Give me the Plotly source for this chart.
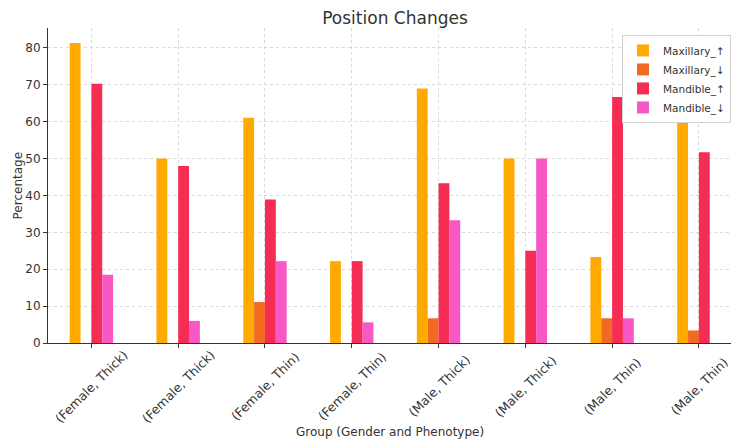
import plotly.graph_objects as go

# Position change percentages by group
groups = ["(Female, Thick)", "(Female, Thick)", "(Female, Thin)", "(Female, Thin)",
          "(Male, Thick)", "(Male, Thick)", "(Male, Thin)", "(Male, Thin)"]
maxillary_up = [81.3, 50.0, 61.1, 22.2, 69.0, 50.0, 23.3, 60.7]
maxillary_down = [0.0, 0.0, 11.1, 0.0, 6.7, 0.0, 6.7, 3.4]
mandible_up = [70.3, 48.0, 38.9, 22.2, 43.3, 25.0, 66.7, 51.7]
mandible_down = [18.5, 6.0, 22.2, 5.6, 33.3, 50.0, 6.7, 0.0]

series = [("Maxillary_↑", maxillary_up, "#FFAA00"),
          ("Maxillary_↓", maxillary_down, "#F26A22"),
          ("Mandible_↑", mandible_up, "#F52D55"),
          ("Mandible_↓", mandible_down, "#F758C4")]

pos = list(range(len(groups)))
txt = "#333333"

fig = go.Figure()
for name, vals, col in series:
    fig.add_trace(go.Bar(x=pos, y=vals, name=name, marker_color=col,
                         marker_line_width=0))

# matplotlib-style centred, rotated tick labels
for p, g in zip(pos, groups):
    fig.add_annotation(x=p, xref="x", y=-0.137, yref="paper", text=g,
                       textangle=-45, showarrow=False, xanchor="center",
                       yanchor="middle", font=dict(size=12.5, color=txt))
fig.add_annotation(x=0.5, xref="paper", y=-0.283, yref="paper",
                   text="Group (Gender and Phenotype)", showarrow=False,
                   xanchor="center", yanchor="middle", font=dict(size=12, color=txt))
fig.add_annotation(x=-0.044, xref="paper", y=0.5, yref="paper",
                   text="Percentage", textangle=-90, showarrow=False,
                   xanchor="center", yanchor="middle", font=dict(size=12, color=txt))

fig.update_layout(
    width=731, height=443,
    margin=dict(l=48, r=0, t=28, b=100, autoexpand=False),
    plot_bgcolor="white", paper_bgcolor="white",
    font=dict(family="DejaVu Sans", color=txt, size=11),
    barmode="group", bargap=0.5, bargroupgap=0,
    title=dict(text="Position Changes", x=395 / 731, xanchor="center",
               y=1 - 18 / 443, yanchor="middle", yref="container",
               font=dict(size=17, color=txt)),
    legend=dict(x=1.0, y=0.978, xanchor="right", yanchor="top",
                bgcolor="white", bordercolor="#d0d0d0", borderwidth=1,
                font=dict(size=10.5, color=txt), tracegroupgap=0),
    showlegend=True,
)
fig.update_xaxes(
    range=[-0.5, 7.37], tickmode="array", tickvals=pos, showticklabels=False,
    automargin=False,
    showline=True, linecolor=txt, linewidth=1,
    ticks="outside", ticklen=4, tickcolor=txt,
    showgrid=True, gridcolor="#d9d9d9", griddash="dot", gridwidth=1,
    zeroline=False,
)
fig.update_yaxes(
    range=[0, 85.4], tickvals=[0, 10, 20, 30, 40, 50, 60, 70, 80],
    tickfont=dict(size=12), automargin=False,
    showline=True, linecolor=txt, linewidth=1,
    ticks="outside", ticklen=4, tickcolor=txt,
    showgrid=True, gridcolor="#d9d9d9", griddash="dot", gridwidth=1,
    zeroline=False,
)

fig.write_html("out.html", config={"displayModeBar": False},
               post_script="document.body.style.margin='0';")
